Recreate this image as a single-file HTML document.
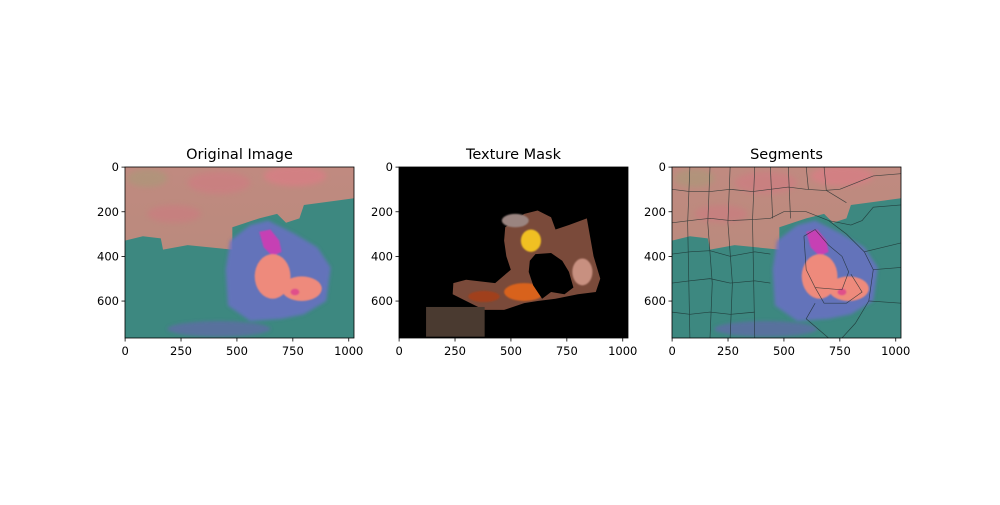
<!DOCTYPE html>
<html><head><meta charset="utf-8"><style>
body{margin:0;background:#fff;width:1000px;height:500px;overflow:hidden;font-family:"Liberation Sans","DejaVu Sans",sans-serif}
svg text{font-family:"DejaVu Sans","Liberation Sans",sans-serif}
</style></head><body>
<svg id="fig" width="1000" height="500" viewBox="0 0 1000 500">
<defs>
<filter id="bl" x="-20%" y="-20%" width="140%" height="140%"><feGaussianBlur stdDeviation="12"/></filter>
<filter id="bm" x="-20%" y="-20%" width="140%" height="140%"><feGaussianBlur stdDeviation="7"/></filter>
<filter id="bs" x="-20%" y="-20%" width="140%" height="140%"><feGaussianBlur stdDeviation="3"/></filter>
<linearGradient id="sky" x1="0" y1="0" x2="0" y2="1">
<stop offset="0" stop-color="#c08a80"/><stop offset="1" stop-color="#b48a7a"/></linearGradient>
<g id="scene">
<rect x="0" y="0" width="1024" height="766" fill="url(#sky)"/>
<g filter="url(#bl)" opacity="0.6">
<ellipse cx="100" cy="50" rx="90" ry="40" fill="#a89a78"/>
<ellipse cx="420" cy="70" rx="140" ry="50" fill="#d07a82"/>
<ellipse cx="760" cy="40" rx="140" ry="45" fill="#e07a86"/>
<ellipse cx="220" cy="210" rx="120" ry="40" fill="#cc7a80"/>
</g>
<polygon points="0,330 80,310 160,320 170,370 280,350 480,370 480,270 600,230 680,210 720,250 780,230 800,170 950,150 1024,140 1024,766 0,766" fill="#3d8880"/>
<g filter="url(#bm)">
<polygon points="470,330 560,260 640,240 760,300 860,360 920,450 900,600 800,660 700,680 560,690 460,620 450,460" fill="#6a70c4" opacity="0.85"/>
<ellipse cx="420" cy="725" rx="230" ry="35" fill="#6a64b0" opacity="0.6"/>
</g>
<g filter="url(#bs)">
<polygon points="600,290 650,280 690,330 700,380 660,400 620,360" fill="#c640b4"/>
<ellipse cx="660" cy="490" rx="80" ry="100" fill="#ee8a7c"/>
<ellipse cx="790" cy="545" rx="90" ry="55" fill="#ee8a7c"/>
<ellipse cx="760" cy="560" rx="20" ry="15" fill="#e0508a"/>
</g>
</g>
</defs>

<g id="ax1">
<svg x="125" y="167" width="229" height="171" viewBox="0 0 1024 766" preserveAspectRatio="none"><use href="#scene"/></svg>
<rect x="125" y="167" width="229" height="171" fill="none" stroke="#000" stroke-width="0.8"/>
<text x="239.5" y="159" font-size="14.5" text-anchor="middle">Original Image</text>
</g>

<g id="ax2">
<rect x="399" y="167" width="229" height="171" fill="#000"/>
<svg x="399" y="167" width="229" height="171" viewBox="0 0 1024 766" preserveAspectRatio="none">
<polygon points="475,270 560,210 620,195 680,225 700,280 760,260 840,230 870,400 900,500 880,560 800,570 700,590 620,600 560,610 470,640 380,640 300,600 240,570 243,520 300,505 430,520 500,460 480,400 470,330" fill="#7a4a3a"/>
<rect x="121" y="627" width="262" height="133" fill="#4a3a30"/>
<g filter="url(#bs)">
<ellipse cx="590" cy="330" rx="45" ry="50" fill="#f0c020"/>
<ellipse cx="560" cy="560" rx="90" ry="40" fill="#d8621a"/>
<ellipse cx="380" cy="580" rx="70" ry="25" fill="#a0401a"/>
<ellipse cx="820" cy="470" rx="45" ry="60" fill="#c89080"/>
<ellipse cx="520" cy="240" rx="60" ry="30" fill="#9a8480"/>
</g>
<polygon points="585,420 610,390 680,385 730,420 760,470 780,540 740,570 680,560 640,590 600,530 580,470" fill="#000"/>
<polygon points="720,590 800,575 880,565 900,530 1024,530 1024,766 700,766" fill="#000"/>
</svg>
<rect x="399" y="167" width="229" height="171" fill="none" stroke="#000" stroke-width="0.8"/>
<text x="513.5" y="159" font-size="14.5" text-anchor="middle">Texture Mask</text>
</g>

<g id="ax3">
<svg x="672" y="167" width="229" height="171" viewBox="0 0 1024 766" preserveAspectRatio="none">
<use href="#scene"/>
<g fill="none" stroke="#1a2a2a" stroke-width="3" opacity="0.75">
<polyline points="0,100 80,110 170,110 260,100 360,110 440,100 520,90 600,100 680,105 750,100"/>
<polyline points="0,250 80,240 170,230 260,240 370,235 440,230"/>
<polyline points="0,390 80,380 170,375 260,400 370,380 440,390"/>
<polyline points="0,520 80,510 170,500 260,520 370,510 440,520"/>
<polyline points="0,650 80,660 170,650 260,660 370,650"/>
<polyline points="80,0 70,250 80,766"/>
<polyline points="170,0 160,250 180,520 170,766"/>
<polyline points="260,0 250,250 270,520 260,766"/>
<polyline points="370,0 360,240 370,766"/>
<polyline points="440,0 450,230"/>
<polyline points="520,0 530,230"/>
<polyline points="600,0 610,100"/>
<polyline points="680,0 690,105 780,160"/>
<polyline points="750,100 900,40 1024,30"/>
<polyline points="440,230 500,200 600,200 700,240 780,300 860,380 900,460 1024,450"/>
<polyline points="700,240 800,260 850,240 900,180 1024,170"/>
<polyline points="860,380 1024,340"/>
<polyline points="900,460 880,600 820,700 760,766"/>
<polyline points="880,600 1024,610"/>
<polyline points="640,610 600,680 700,766"/>
<polyline points="590,310 640,280 700,350 760,400 790,470 760,550 640,540 600,460 590,310"/>
<polyline points="640,540 680,610 780,610 850,560 800,480"/>
</g>
</svg>
<rect x="672" y="167" width="229" height="171" fill="none" stroke="#000" stroke-width="0.8"/>
<text x="786.5" y="159" font-size="14.5" text-anchor="middle">Segments</text>
</g>
<g id="ticks"></g>
</svg>
<script>
const xTicks=[0,250,500,750,1000];
const yTicks=[0,200,400,600];
const imgW=1024, imgH=766;
const axesLeft=[125,399,672];
const top0=167, aw=229, ah=171;
const NS="http://www.w3.org/2000/svg";
const g=document.getElementById('ticks');
function mk(t,a){const e=document.createElementNS(NS,t);for(const k in a)e.setAttribute(k,a[k]);g.appendChild(e);return e;}
axesLeft.forEach((L,i)=>{
  const sx=v=>L+(v+0.5)*aw/imgW, sy=v=>top0+(v+0.5)*ah/imgH;
  xTicks.forEach(v=>{
    const ln=mk('line',{x1:sx(v),x2:sx(v),y1:top0+ah,y2:top0+ah+3.5,stroke:'#000','stroke-width':0.8});
    
    
    const t=mk('text',{x:sx(v),y:top0+ah+17,'font-size':11.5,'text-anchor':'middle'});
    t.textContent=v;
    
    
  });
  yTicks.forEach(v=>{
    const ln=mk('line',{x1:L-3.5,x2:L,y1:sy(v),y2:sy(v),stroke:'#000','stroke-width':0.8});
    
    
    const t=mk('text',{x:L-6,y:sy(v)+4,'font-size':11.5,'text-anchor':'end'});
    t.textContent=v;
    
    
  });
});
</script>
</body></html>
